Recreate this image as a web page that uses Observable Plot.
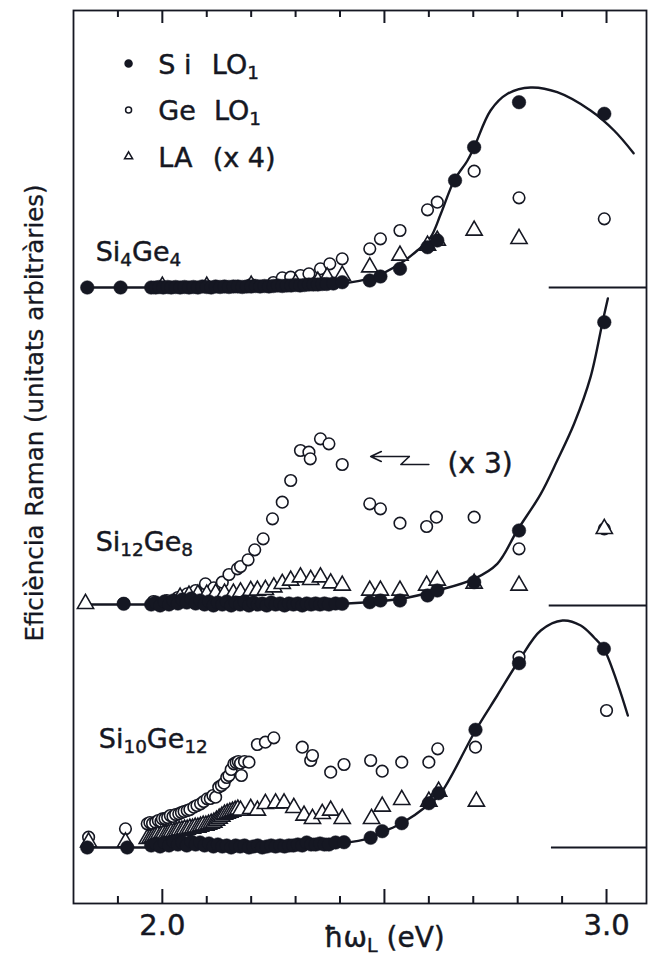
<!DOCTYPE html>
<html><head><meta charset="utf-8">
<script src="https://cdn.jsdelivr.net/npm/d3@7"></script>
<script src="https://cdn.jsdelivr.net/npm/@observablehq/plot@0.6"></script>
<style>
body{margin:0;background:#fff}
svg{display:block}
g[aria-label="ylabel"] text{letter-spacing:0.6px}
g[aria-label="xlabel"] text{letter-spacing:2.5px}
</style>
</head><body><div id="chart"></div>
<script>
// ---- axis / layout constants ----
const xDomain = [1.8, 3.09];
const majorTicks = [2.0, 2.5, 3.0];
const minorTicks = [1.9, 2.1, 2.2, 2.3, 2.4, 2.6, 2.7, 2.8, 2.9];
const tickLabels = [2.0, 3.0];

// ---- panels (vertical offsets in arbitrary units) ----
const panelNames = ["Si{4}Ge{4}", "Si{12}Ge{8}", "Si{10}Ge{12}"];
const panelOffsets = [616, 298, 56];
const panelLabelX = [1.85, 1.85, 1.857];
const panelLabelLift = [27, 55, 100];
const stubStart = [2.871, 2.871, 2.876];

// ---- series: [photon energy (eV), intensity (arb.)] ----
const p1Si = [[1.831,0],[1.906,0],
 [1.975,0],[1.985,0],[1.993,0.5],[2.002,0],[2.012,0.5],[2.020,0],[2.030,0.5],[2.040,0],[2.050,0.5],[2.060,0],
 [2.070,0.5],[2.080,0],[2.090,1],[2.100,0.5],[2.110,0],[2.120,1],[2.130,0.5],[2.140,1],[2.150,0.5],[2.160,1],
 [2.170,1],[2.180,0.5],[2.190,1],[2.200,1],[2.210,1.5],[2.220,1],[2.230,1.5],[2.240,1],[2.250,1.5],[2.260,2],
 [2.270,1.5],[2.280,2],[2.290,2],[2.300,2.5],[2.310,2],[2.320,2.5],[2.330,3],[2.340,3],[2.350,3],[2.360,3.5],
 [2.370,3.5],[2.385,4],
 [2.405,5.3],[2.467,7],[2.491,11],[2.535,18.7],[2.597,40.3],[2.619,47],[2.659,107],[2.702,140.3],[2.803,185.3],[2.995,173.7]];
const p1Ge = [[2.0,1],[2.1,1.5],[2.2,3],[2.25,5],[2.270,9.7],[2.289,10.3],[2.311,12],[2.330,13.7],[2.356,18.7],[2.377,23.7],
 [2.405,28.7],[2.467,38.7],[2.491,48.7],[2.535,57],[2.597,77.7],[2.619,85.3],[2.702,116.3],[2.803,89.7],[2.995,68.7]];
const p1LA = [[2.0,1],[2.1,1],[2.2,2],[2.3,4],[2.35,6],[2.371,10.3],[2.405,12],[2.467,20.3],[2.535,32],[2.597,42],
 [2.619,47],[2.702,57],[2.803,48.7]];
const p1Fit = [[1.831,0],[1.973,0],[2.199,1],[2.401,3.7],[2.476,10.3],[2.535,23.7],[2.574,37],[2.604,50.3],[2.627,73.7],
 [2.657,107],[2.687,127],[2.702,140.3],[2.739,177],[2.777,193.7],[2.829,200],[2.889,195.3],[2.964,177],[3.017,157],[3.061,134.3]];

const p2Si = [[1.913,1.7],
 [1.975,1],[1.985,3],[1.995,0],[2.005,4],[2.015,1],[2.025,5],[2.035,2],[2.045,6],[2.055,3],[2.065,7],[2.075,2],
 [2.085,5],[2.095,1],[2.105,4],[2.115,0],[2.125,3],[2.135,1],[2.145,4],[2.155,0],[2.165,3],[2.175,1],[2.185,4],
 [2.195,0],[2.205,3],[2.215,1],[2.225,2],[2.235,0],[2.245,3],[2.255,1],[2.265,2],[2.275,0],[2.285,2],[2.295,1],
 [2.305,2],[2.315,0],[2.325,2],[2.335,1],[2.345,2],[2.355,1],[2.365,2],[2.375,1],[2.390,2],
 [2.405,1.7],[2.467,3.3],[2.491,5],[2.535,5],[2.597,10],[2.619,15],[2.702,23.3],[2.803,75],[2.995,283.3]];
const p2Ge = [[1.913,2],[1.98,4],[2.01,5],[2.035,8],[2.056,11.7],[2.075,15],[2.097,21.7],[2.116,17.7],[2.135,23.3],
 [2.150,31],[2.169,36.7],[2.176,39],[2.193,45.7],[2.208,55.7],[2.227,66.7],[2.248,86.7],[2.270,103.3],[2.289,125],
 [2.311,155],[2.330,153.3],[2.333,146.7],[2.356,166.7],[2.375,161.7],[2.405,141],[2.467,101.7],[2.491,96.7],
 [2.535,82.3],[2.595,79],[2.617,88.3],[2.702,88.3],[2.803,56.7],[2.995,76.7]];
const p2LA = [[1.827,1.7],[2.04,8],[2.06,10],[2.08,11],[2.10,11],[2.12,12],[2.14,12],[2.16,12],[2.176,13.3],[2.199,14.7],
 [2.214,15],[2.232,15.7],[2.251,18.3],[2.270,21.7],[2.289,25],[2.311,28.3],[2.334,25.7],[2.356,28.3],[2.379,22.3],
 [2.405,20],[2.467,15],[2.491,15],[2.535,15],[2.595,20],[2.619,25],[2.702,22],[2.803,20],[2.995,76.7]];
const p2Fit = [[1.827,1],[1.973,1],[2.2,1.2],[2.405,1.7],[2.537,6.7],[2.619,15],[2.702,26.7],[2.754,41.7],[2.799,75],
 [2.852,111.7],[2.889,145],[2.927,181.7],[2.964,228.3],[2.991,283.3],[3.003,307]];

const p3Si = [[1.831,0],[1.921,0],
 [1.975,2],[1.985,4],[1.995,1],[2.005,5],[2.015,2],[2.025,6],[2.035,3],[2.045,5],[2.055,2],[2.065,6],[2.075,3],
 [2.085,5],[2.095,2],[2.105,4],[2.115,1],[2.125,3],[2.135,1],[2.145,2],[2.155,0],[2.165,2],[2.175,1],[2.185,2],
 [2.195,0],[2.205,1],[2.215,2],[2.225,0],[2.235,1],[2.245,2],[2.255,1],[2.265,2],[2.275,1],[2.285,2],[2.295,2],
 [2.305,3],[2.315,2],[2.325,5],[2.335,3],[2.345,3],[2.355,4],[2.365,3],[2.375,3],[2.390,5],
 [2.409,5.3],[2.469,9.7],[2.495,16.3],[2.539,24.3],[2.600,44.3],[2.622,54.3],[2.705,117.7],[2.803,184.3],[2.994,198.7]];
const p3Ge = [[1.834,10.3],[1.917,18.7],[1.966,23.7],[1.972,25],[1.978,24],[1.985,25.3],[1.991,27],[1.997,26],[2.000,28.7],
 [2.006,29],[2.012,30],[2.018,32],[2.024,31],[2.030,33],[2.037,33.7],[2.043,35],[2.049,36],[2.056,37],[2.062,38],
 [2.071,40.3],[2.078,42],[2.086,43.7],[2.093,46],[2.101,48.7],[2.108,49],[2.114,52],[2.120,50.3],[2.127,60.3],
 [2.133,62],[2.139,64.3],[2.145,70],[2.150,72],[2.155,78],[2.161,83.7],[2.166,85],[2.171,86],[2.176,84.3],
 [2.178,72],[2.185,86],[2.195,85.3],[2.214,103],[2.232,105.3],[2.251,109.7],[2.315,100.3],[2.334,87],[2.338,92],
 [2.379,75.3],[2.409,83],[2.469,87],[2.495,76.3],[2.539,85.3],[2.600,85.3],[2.620,98.7],[2.705,100.3],[2.803,190.3],[3.000,137]];
const p3LA = [[1.834,5.3],[1.917,5.3],[1.966,8.7],[1.972,9],[1.978,10],[1.984,11],[1.990,12],[1.996,12],[2.002,13],
 [2.008,13],[2.014,14],[2.020,15],[2.026,15],[2.032,16],[2.038,17],[2.044,17],[2.050,18],[2.056,18],[2.062,19],
 [2.068,19],[2.074,20],[2.080,20],[2.086,21],[2.092,22],[2.098,22],[2.104,23],[2.110,24],[2.116,25],[2.122,27],
 [2.128,29],[2.134,31],[2.140,33],[2.146,34],[2.152,35],[2.158,36],[2.164,37],[2.170,38],[2.176,37],[2.199,38.7],
 [2.214,37],[2.232,43.7],[2.255,44.3],[2.274,44.3],[2.296,39.7],[2.319,32],[2.338,28.7],[2.360,33.7],[2.379,37],
 [2.405,28.7],[2.471,28.7],[2.495,41],[2.539,47.7],[2.600,46],[2.622,56],[2.707,46]];
const p3Fit = [[1.827,0],[1.973,0],[2.199,0.5],[2.401,4.3],[2.469,9.7],[2.495,15.3],[2.539,24.3],[2.600,43],[2.627,54.3],
 [2.705,117],[2.754,152],[2.803,187],[2.852,217],[2.901,227],[2.942,222],[2.972,210],[2.994,198.7],[3.025,163.7],[3.048,132]];

// ---- legend & annotations ----
const legendLabels = ["S i\u2002\u2005LO{1}", "Ge\u2002\u2006LO{1}", "LA\u2002\u2005(x 4)"];
const legendSymbols = ["si", "ge", "la"];
const factorNote = "(x 3)";
const factorArrowHead = [{x1: 2.556, y1: 447, x2: 2.469, y2: 447}];
const factorArrowZ = [[2.556,447],[2.537,439],[2.600,439]];
const xLabel = "\u0127\u03c9{L} (eV)";
const yLabel = "Efici\u00e8ncia Raman (unitats arbitr\u00e0ries)";

// ---- build rows ----
const rows = (arrs) => arrs.flatMap((arr, p) => arr.map(([x, v]) => ({x, y: panelOffsets[p] + v, panel: p})));
const siRows = rows([p1Si, p2Si, p3Si]);
const geRows = rows([p1Ge, p2Ge, p3Ge]);
const laRows = rows([p1LA, p2LA, p3LA]);
const fitRows = rows([p1Fit, p2Fit, p3Fit]);
const stubRows = panelOffsets.map((y, i) => ({y, x1: stubStart[i]}));
const labelRows = panelNames.map((t, i) => ({t, x: panelLabelX[i], y: panelOffsets[i] + panelLabelLift[i]}));

const W = 649, H = 962, mT = 10, mB = 59, mL = 73, mR = 3;
const plotH = H - mT - mB;
const INK = "#151722";
const TXT = {fill: INK, stroke: INK, strokeWidth: 0.45};
const legendX = 1.924, legendTextX = 1.991, legendTop = 840, legendGap = 46.5;

const chart = Plot.plot({
  width: W, height: H,
  marginTop: mT, marginBottom: mB, marginLeft: mL, marginRight: mR,
  style: {fontFamily: "DejaVu Sans", color: INK, background: "#fff"},
  x: {domain: xDomain, axis: null},
  y: {domain: [0, plotH], axis: null},
  marks: [
    Plot.frame({stroke: INK, strokeWidth: 1.8}),
    Plot.tickX(majorTicks, {x: d => d, insetTop: plotH - 14, stroke: INK, strokeWidth: 2}),
    Plot.tickX(minorTicks, {x: d => d, insetTop: plotH - 7, stroke: INK, strokeWidth: 2}),
    Plot.tickX(majorTicks, {x: d => d, insetBottom: plotH - 13, stroke: INK, strokeWidth: 2}),
    Plot.tickX(minorTicks, {x: d => d, insetBottom: plotH - 7, stroke: INK, strokeWidth: 2}),
    Plot.text(tickLabels, {x: d => d, text: d => d3.format(".1f")(d), frameAnchor: "bottom", dy: 31, fontSize: 29, ...TXT}),
    Plot.text([xLabel], {x: () => 2.5, text: d => d, frameAnchor: "bottom", lineAnchor: "bottom", dy: 43, fontSize: 28, ...TXT, ariaLabel: "xlabel"}),
    Plot.text([yLabel], {text: d => d, frameAnchor: "left", textAnchor: "middle", rotate: -90, dx: -38, dy: -44, fontSize: 24.5, ...TXT, strokeWidth: 0.3, ariaLabel: "ylabel"}),
    Plot.ruleY(stubRows, {y: "y", x1: "x1", x2: () => xDomain[1], stroke: INK, strokeWidth: 1.8}),
    Plot.line(fitRows, {x: "x", y: "y", z: "panel", curve: "catmull-rom", stroke: INK, strokeWidth: 2.4}),
    Plot.dot(geRows, {x: "x", y: "y", r: 5.8, fill: "white", stroke: INK, strokeWidth: 1.6}),
    Plot.dot(laRows, {x: "x", y: "y", symbol: "triangle", r: 6, fill: "white", stroke: INK, strokeWidth: 1.6}),
    Plot.dot(siRows, {x: "x", y: "y", r: 6.8, fill: INK, stroke: INK, strokeWidth: 0.5}),
    Plot.text(labelRows, {x: "x", y: "y", text: "t", textAnchor: "start", lineAnchor: "bottom", fontSize: 27, ...TXT}),
    // legend
    Plot.dot(legendSymbols, {x: () => legendX, y: (d, i) => legendTop - legendGap * i,
      symbol: d => d === "la" ? "triangle" : "circle",
      r: d => d === "si" ? 6.8 : 5,
      fill: d => d === "si" ? INK : "white", stroke: INK, strokeWidth: 1.5}),
    Plot.text(legendLabels, {x: () => legendTextX, y: (d, i) => legendTop - 10 - legendGap * i, text: d => d,
      textAnchor: "start", lineAnchor: "bottom", fontSize: 27, ...TXT}),
    // (x 3) note and arrow
    Plot.arrow(factorArrowHead, {x1: "x1", y1: "y1", x2: "x2", y2: "y2", stroke: INK, strokeWidth: 1.6, headLength: 11, headAngle: 50}),
    Plot.line(factorArrowZ, {x: d => d[0], y: d => d[1], stroke: INK, strokeWidth: 1.6}),
    Plot.text([factorNote], {x: () => 2.642, y: () => 431, text: d => d, textAnchor: "start", lineAnchor: "bottom", fontSize: 28, ...TXT})
  ]
});

// subscripts: turn "{..}" into real tspans
const NS = "http://www.w3.org/2000/svg";
chart.querySelectorAll("text").forEach(t => {
  const s = t.textContent;
  if (!s.includes("{")) return;
  const fsAttr = t.closest("[font-size]");
  const fs = fsAttr ? parseFloat(fsAttr.getAttribute("font-size")) : 16;
  t.textContent = "";
  let shifted = false;
  for (const part of s.split(/(\{[^}]*\})/)) {
    if (!part) continue;
    const ts = document.createElementNS(NS, "tspan");
    if (part.startsWith("{")) {
      ts.textContent = part.slice(1, -1);
      ts.setAttribute("font-size", (fs * 0.68).toFixed(1));
      ts.setAttribute("dy", (fs * 0.2).toFixed(1));
      shifted = true;
    } else {
      ts.textContent = part;
      if (shifted) { ts.setAttribute("dy", (-fs * 0.2).toFixed(1)); shifted = false; }
    }
    t.appendChild(ts);
  }
});

document.getElementById("chart").appendChild(chart);
</script>
</body></html>
